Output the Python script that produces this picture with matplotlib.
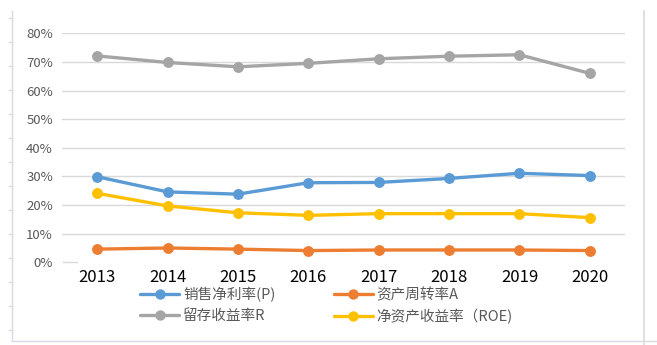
import matplotlib
matplotlib.use("Agg")
import matplotlib.pyplot as plt
from matplotlib.lines import Line2D
from matplotlib.ticker import FuncFormatter

plt.rcParams['font.family'] = ['Noto Sans CJK SC', 'DejaVu Sans']

# datos
anios = ['2013', '2014', '2015', '2016', '2017', '2018', '2019', '2020']
margen_neto = [0.299, 0.246, 0.238, 0.278, 0.279, 0.293, 0.311, 0.303]
rotacion_activos = [0.046, 0.050, 0.046, 0.041, 0.043, 0.043, 0.043, 0.041]
retencion = [0.721, 0.698, 0.683, 0.695, 0.711, 0.720, 0.725, 0.660]
roe = [0.241, 0.197, 0.173, 0.164, 0.170, 0.170, 0.170, 0.156]

series = [
    ('销售净利率(P)', margen_neto, '#5B9BD5'),
    ('资产周转率A', rotacion_activos, '#ED7D31'),
    ('留存收益率R', retencion, '#A5A5A5'),
    ('净资产收益率（ROE)', roe, '#FFC000'),
]

W, H = 657, 345
fig = plt.figure(figsize=(W / 100, H / 100), dpi=100)
ax = fig.add_axes([62 / W, 1 - 262.3 / H, (625 - 62) / W, (262.3 - 33.3) / H])

x = range(len(anios))
lineas = []
for nombre, valores, color in series:
    l, = ax.plot(x, valores, color=color, lw=2.4, marker='o', ms=6.8,
                 solid_capstyle='round', label=nombre, zorder=3)
    lineas.append(l)

ax.set_xlim(-0.5, len(anios) - 0.5)
ax.set_ylim(0, 0.8)
ax.set_yticks([i / 10 for i in range(9)])
ax.yaxis.set_major_formatter(FuncFormatter(lambda v, p: f'{v:.0%}'))
ax.set_xticks(list(x))
ax.set_xticklabels(anios, fontweight='medium')
for s in ax.spines.values():
    s.set_visible(False)
ax.tick_params(axis='y', length=0, pad=6.5, labelsize=9.5, labelcolor='#595959')
ax.tick_params(axis='x', length=0, pad=5, labelsize=12, labelcolor='black')
for v in range(1, 9):
    ax.axhline(v / 10, color='#D9D9D9', lw=1, zorder=1)

# adornos del marco
fig.add_artist(Line2D([63 / W, 77 / W], [1 - 262.3 / H] * 2, color='#D9D9D9', lw=1))
fig.add_artist(Line2D([12 / W, 12 / W], [1 - 11 / H, 1 - 341 / H], color='#D9D9E3', lw=1))
fig.add_artist(Line2D([12 / W, 657 / W], [1 - 341 / H] * 2, color='#D9D9E3', lw=1))
fig.add_artist(Line2D([644 / W, 644 / W], [1 - 11 / H, 0], color='#D9D9D9', lw=1.2))
for k in range(14):
    yy = 1 - (18 + 24 * k) / H
    fig.add_artist(Line2D([9 / W, 12 / W], [yy, yy], color='#D9D9E3', lw=1))

# orden por columnas: (P, R) y (A, ROE)
orden = [0, 2, 1, 3]
leg = fig.legend([lineas[i] for i in orden], [series[i][0] for i in orden],
                 loc='upper left', bbox_to_anchor=(140 / W, 1 - 287 / H), ncol=2,
                 frameon=False, fontsize=10.5, handlelength=2.7, handletextpad=0.25,
                 columnspacing=4.0, labelspacing=0.45, borderpad=0, borderaxespad=0,
                 markerscale=0.95)
for t in leg.get_texts():
    t.set_color('#595959')

fig.savefig('out.png', dpi=100)
